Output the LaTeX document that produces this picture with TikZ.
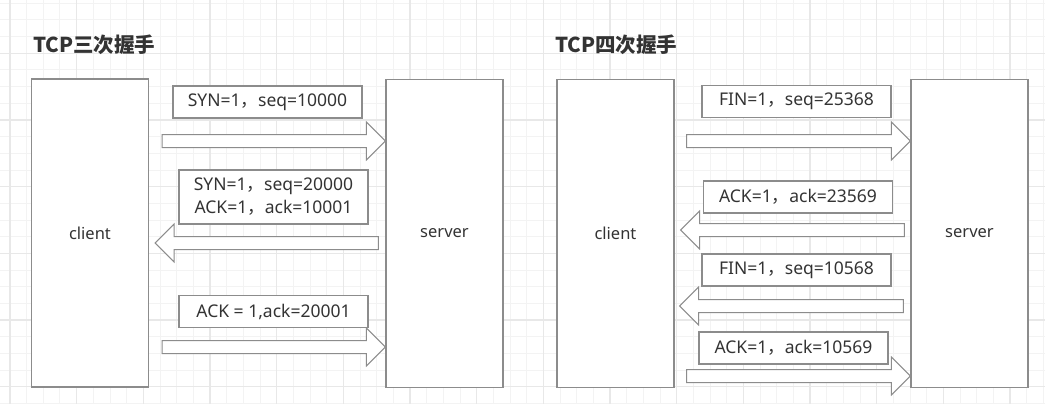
\documentclass[tikz,border=0pt]{standalone}
\usepackage{fontspec}
\setmainfont{Noto Sans}
\newfontfamily\cjk{Noto Sans CJK SC}
\newcommand{\fwc}{{\cjk ，}}
\usetikzlibrary{calc}
\definecolor{GridMinor}{HTML}{F3F3F3}
\definecolor{GridMajor}{HTML}{E8E8E8}
\definecolor{Edge}{HTML}{8C8C8C}
\definecolor{Ink}{HTML}{333333}

\begin{document}
\begin{tikzpicture}[x=1pt,y=-1pt,
  gridminor/.style={draw=GridMinor,line width=1pt},
  gridmajor/.style={draw=GridMajor,line width=1.4pt},
  hostbox/.style={draw=Edge,line width=1.2pt,fill=white,minimum width=117,
    minimum height=308,inner sep=0pt,text=Ink,font=\fontsize{16.5}{18}\selectfont},
  msgbox/.style={draw=Edge,line width=1.2pt,fill=white,minimum width=189,
    minimum height=32,inner sep=0pt,align=center,text=Ink,
    font=\fontsize{17.5}{23}\selectfont},
  ttl/.style={anchor=west,inner sep=0pt,text=Ink,
    font=\fontsize{20.5}{24}\selectfont\cjk\bfseries},
  blk/.style={draw=Edge,line width=1pt,fill=white},
  rblock/.style={blk,to path={($(\tikztostart)+(0,-6.5)$)
    -- ($(\tikztotarget)+(-19,-6.5)$) -- ($(\tikztotarget)+(-19,-19)$)
    -- (\tikztotarget) -- ($(\tikztotarget)+(-19,19)$)
    -- ($(\tikztotarget)+(-19,6.5)$) -- ($(\tikztostart)+(0,6.5)$) -- cycle}},
  lblock/.style={blk,to path={($(\tikztostart)+(0,-6.5)$)
    -- ($(\tikztotarget)+(19,-6.5)$) -- ($(\tikztotarget)+(19,-19)$)
    -- (\tikztotarget) -- ($(\tikztotarget)+(19,19)$)
    -- ($(\tikztotarget)+(19,6.5)$) -- ($(\tikztostart)+(0,6.5)$) -- cycle}}
]
  % background grid
  \fill[white] (0,0) rectangle (1045,404);
  \useasboundingbox (0,0) rectangle (1045,404);
  \foreach \i in {0,...,63}
    \draw[gridminor] ({-6.67+16.667*\i},0) -- ({-6.67+16.667*\i},404);
  \foreach \j in {0,...,24}
    \draw[gridminor] (0,{3.33+16.667*\j}) -- (1045,{3.33+16.667*\j});
  \foreach \i in {0,...,15}
    \draw[gridmajor] ({10+66.667*\i},0) -- ({10+66.667*\i},404);
  \foreach \j in {1,...,6}
    \draw[gridmajor] (0,{-13.33+66.667*\j}) -- (1045,{-13.33+66.667*\j});

  % three-way handshake
  \node[ttl] at (33,45) {TCP三次握手};
  \node[hostbox] (cli3) at (90,233) {client};
  \node[hostbox] (srv3) at (444.5,233.5) {server};
  \node[msgbox] (syn) at (267.5,102) {SYN=1\fwc seq=10000};
  \node[msgbox,minimum height=54] (synack) at (273.5,197)
    {SYN=1\fwc seq=20000\\ACK=1\fwc ack=10001};
  \node[msgbox] (ack3) at (273.5,311.5) {ACK = 1,ack=20001};
  \coordinate (syn-t)    at ($(cli3.east |- 0,141)+(13,0)$);
  \coordinate (syn-h)    at (srv3.west |- 0,141);
  \coordinate (synack-t) at ($(srv3.west |- 0,243)+(-7,0)$);
  \coordinate (synack-h) at ($(cli3.east |- 0,243)+(6,0)$);
  \coordinate (ack3-t)   at ($(cli3.east |- 0,347)+(13,0)$);
  \coordinate (ack3-h)   at (srv3.west |- 0,347);
  \draw[rblock] (syn-t) to (syn-h);
  \draw[lblock] (synack-t) to (synack-h);
  \draw[rblock] (ack3-t) to (ack3-h);

  % four-way handshake
  \node[ttl] at (555,45) {TCP四次握手};
  \node[hostbox] (cli4) at (615.5,233.5) {client};
  \node[hostbox] (srv4) at (969.5,233.5) {server};
  \node[msgbox] (fin1) at (796.5,101.5) {FIN=1\fwc seq=25368};
  \node[msgbox] (ack1) at (798,197) {ACK=1\fwc ack=23569};
  \node[msgbox] (fin2) at (796.5,270) {FIN=1\fwc seq=10568};
  \node[msgbox] (ack2) at (793.5,348) {ACK=1\fwc ack=10569};
  \coordinate (fin1-t) at ($(cli4.east |- 0,141)+(12,0)$);
  \coordinate (fin1-h) at (srv4.west |- 0,141);
  \coordinate (ack1-t) at ($(srv4.west |- 0,230)+(-6,0)$);
  \coordinate (ack1-h) at ($(cli4.east |- 0,230)+(6,0)$);
  \coordinate (fin2-t) at ($(srv4.west |- 0,306)+(-7,0)$);
  \coordinate (fin2-h) at ($(cli4.east |- 0,306)+(5,0)$);
  \coordinate (ack2-t) at ($(cli4.east |- 0,376)+(12,0)$);
  \coordinate (ack2-h) at (srv4.west |- 0,376);
  \draw[rblock] (fin1-t) to (fin1-h);
  \draw[lblock] (ack1-t) to (ack1-h);
  \draw[lblock] (fin2-t) to (fin2-h);
  \draw[rblock] (ack2-t) to (ack2-h);
\end{tikzpicture}
\end{document}
